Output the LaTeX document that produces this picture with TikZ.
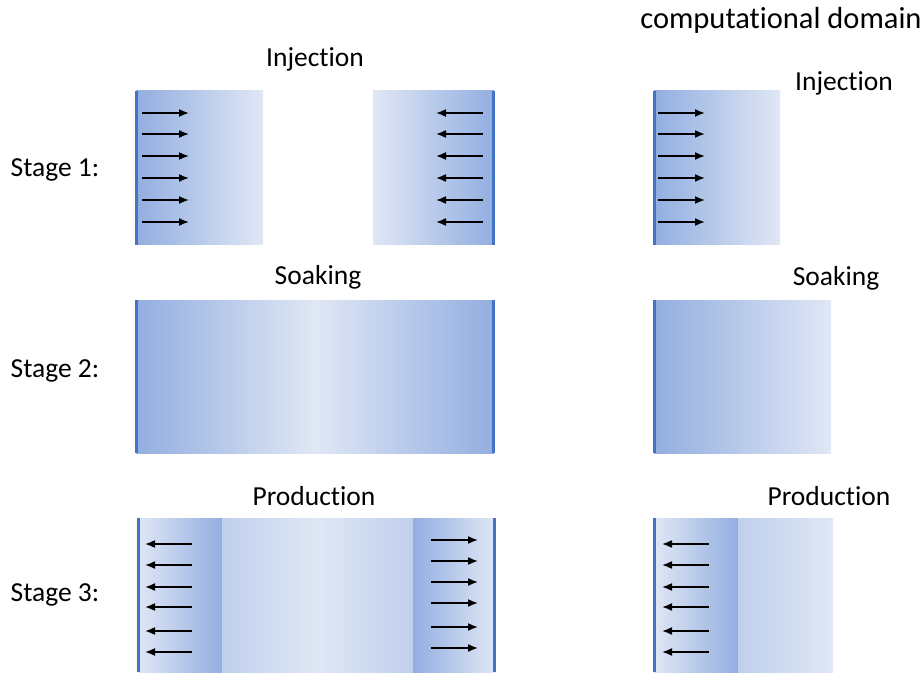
\documentclass[tikz,border=0pt]{standalone}
\usepackage{fontspec}
\setmainfont{Carlito}[Ligatures=NoCommon]
\usetikzlibrary{arrows.meta}
\definecolor{edgeblue}{RGB}{68,114,196}
\definecolor{dk}{RGB}{146,174,224}
\definecolor{lt}{RGB}{224,231,245}
\definecolor{md}{RGB}{192,207,237}
\tikzset{
  lbl/.style={font=\fontsize{27.5}{32}\selectfont, inner sep=0pt},
  edgeline/.style={draw=edgeblue, line width=3pt},
  arr/.style={line width=1.6pt, -{Latex[length=10pt,width=8pt]}},
}
\begin{document}
\begin{tikzpicture}[x=1pt,y=-1pt]
\useasboundingbox (0,0) rectangle (923,676);
% ---------- labels ----------
\node[lbl, font=\fontsize{30.5}{34}\selectfont] (top) at (781,20) {computational domain};
\node[lbl] (s1) at (55,170) {Stage 1:};
\node[lbl] (s2) at (55,371) {Stage 2:};
\node[lbl] (s3) at (55,595) {Stage 3:};
\node[lbl] (inj) at (315,59) {Injection};
\node[lbl] (soak) at (318,277) {Soaking};
\node[lbl] (prod) at (314,496) {Production};
\node[lbl] (injR) at (844,83) {Injection};
\node[lbl] (soakR) at (836,278) {Soaking};
\node[lbl] (prodR) at (829,496) {Production};
% ---------- Stage 1 ----------
\shade[left color=dk, right color=lt] (136,91) rectangle (263,245);
\shade[left color=lt, right color=dk] (373,91) rectangle (494,245);
\shade[left color=dk, right color=lt] (654,91) rectangle (780,245);
\draw[edgeline] (136,91) -- (136,245);
\draw[edgeline] (493,91) -- (493,245);
\draw[edgeline] (654,91) -- (654,245);
\foreach \y in {113,134,156,178,200,222}{
  \draw[arr] (142,\y) -- (189,\y);
  \draw[arr] (483,\y) -- (436,\y);
  \draw[arr] (658,\y) -- (705,\y);
}
% ---------- Stage 2 ----------
\shade[left color=dk, right color=dk, middle color=lt] (136,300) rectangle (494,453);
\shade[left color=dk, right color=lt] (654,300) rectangle (831,453);
\draw[edgeline] (136,300) -- (136,453);
\draw[edgeline] (493,300) -- (493,453);
\draw[edgeline] (654,300) -- (654,453);
% ---------- Stage 3 ----------
\shade[left color=lt, right color=dk] (138,518) rectangle (222,672);
\shade[left color=md, right color=md, middle color=lt] (222,518) rectangle (413,672);
\shade[left color=dk, right color=lt] (413,518) rectangle (495,672);
\shade[left color=lt, right color=dk] (654,518) rectangle (738,672);
\shade[left color=md, right color=lt] (738,518) rectangle (833,672);
\draw[edgeline] (138,518) -- (138,672);
\draw[edgeline] (494,518) -- (494,672);
\draw[edgeline] (654,518) -- (654,672);
\foreach \y in {544,565,587,607,631,652}{
  \draw[arr] (192,\y) -- (145,\y);
  \draw[arr] (709,\y) -- (662,\y);
}
\foreach \y in {540,561,582,603,627,648}{
  \draw[arr] (431,\y) -- (478,\y);
}
\end{tikzpicture}
\end{document}
